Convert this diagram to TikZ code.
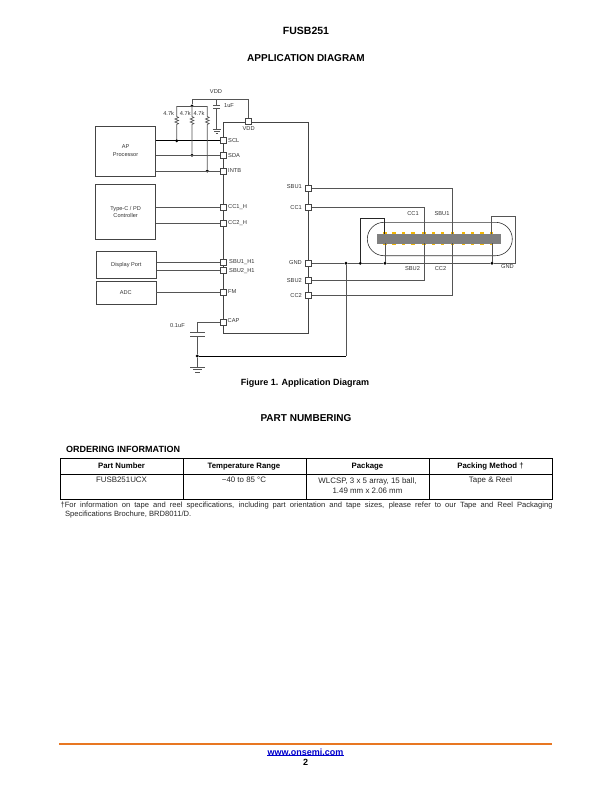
\documentclass[tikz,border=0pt]{standalone}
\usepackage{fontspec}
\setmainfont{Liberation Sans}
\usetikzlibrary{calc}
\definecolor{wirec}{HTML}{555555}
\definecolor{boxc}{HTML}{444444}
\definecolor{pinc}{HTML}{F2B705}
\definecolor{barc}{HTML}{7F7F7F}
\definecolor{footc}{HTML}{E87722}
\definecolor{linkc}{HTML}{0000CC}
\tikzset{
  wire/.style={draw=wirec,line width=0.5pt},
  blk/.style={draw=boxc,line width=0.6pt,fill=white,inner sep=0pt,align=center,font=\fontsize{5.6}{6.8}\selectfont,text=black!80},
  icpin/.style={draw=boxc,line width=0.5pt,fill=white,minimum size=6pt,inner sep=0pt},
  dotj/.style={circle,fill=black,inner sep=0pt,minimum size=3.2pt},
  lab/.style={inner sep=0pt,font=\fontsize{5.7}{6.5}\selectfont,text=black!80},
  labl/.style={lab,anchor=west},
  labr/.style={lab,anchor=east},
  ctact/.style={fill=pinc,draw=none,minimum width=3.2pt,minimum height=2.2pt,inner sep=0pt},
  head/.style={inner sep=0pt,font=\bfseries\fontsize{10}{12}\selectfont},
  subhead/.style={inner sep=0pt,font=\bfseries\fontsize{9}{11}\selectfont},
  thead/.style={inner sep=0pt,anchor=base,font=\bfseries\fontsize{7.8}{9.5}\selectfont,align=center},
  tcell/.style={inner sep=0pt,font=\fontsize{7.9}{9.5}\selectfont,align=center,text=black!85},
}
\begin{document}
\begin{tikzpicture}[x=1pt,y=-1pt]
\useasboundingbox (0,0) rectangle (612,792);
% titles
\node[inner sep=0pt,font=\bfseries\fontsize{10.5}{12}\selectfont] (title) at (306,30.5) {FUSB251};
\node[head] (apptitle) at (306,58) {APPLICATION DIAGRAM};
\node[subhead] (figcap) at (305,383) {Figure 1. Application Diagram};
\node[head] (parttitle) at (306,418.5) {PART NUMBERING};
\node[subhead,anchor=west] (ordtitle) at (66,449) {ORDERING INFORMATION};
% IC and blocks
\node[blk,minimum width=85pt,minimum height=211.6pt,anchor=north west,line width=0.8pt] (ic) at (223.3,121.7) {};
\node[blk,minimum width=60pt,minimum height=50pt,anchor=north west] (ap) at (95.3,125.7) {AP\\[1pt]Processor};
\node[blk,minimum width=60pt,minimum height=54.7pt,anchor=north west] (typec) at (95.3,184.3) {Type-C / PD\\Controller};
\node[blk,minimum width=60pt,minimum height=26.7pt,anchor=north west] (dp) at (96,251) {Display Port};
\node[blk,minimum width=60pt,minimum height=22.7pt,anchor=north west] (adc) at (95.5,281.3) {ADC};
% coordinates
\coordinate (sclc) at (223.3,140.7);
\coordinate (sdac) at (223.3,155.3);
\coordinate (intbc) at (223.3,171);
\coordinate (cchc) at (223.3,207.3);
\coordinate (cchtwoc) at (223.3,223.3);
\coordinate (sbuhc) at (223.3,262.3);
\coordinate (sbuhtwoc) at (223.3,270.7);
\coordinate (fmc) at (223.3,292);
\coordinate (capc) at (223.3,322);
\coordinate (vddc) at (248.3,121.7);
\coordinate (rsbuc) at (308.3,188);
\coordinate (rccc) at (308.3,207.5);
\coordinate (rgndc) at (308.3,263.3);
\coordinate (rsbutwoc) at (308.3,280.5);
\coordinate (rcctwoc) at (308.3,295.5);
% junctions
\node[dotj] (jscl) at (176.7,140.7) {};
\node[dotj] (jsda) at (192,155.3) {};
\node[dotj] (jintb) at (207.3,171) {};
\node[dotj] (jbus) at (192,106) {};
\coordinate (ra) at (176.7,106);
\coordinate (rc) at (207.3,106);
\coordinate (vtl) at (192,99);
\coordinate (vtc) at (216.7,99);
\coordinate (vtr) at (248.3,99);
% left wires
\draw[wire,draw=black,line width=0.6pt] (ap.east |- sclc) -- (sclc);
\draw[wire] (ap.east |- sdac) -- (sdac);
\draw[wire] (ap.east |- intbc) -- (intbc);
\draw[wire] (typec.east |- cchc) -- (cchc);
\draw[wire] (typec.east |- cchtwoc) -- (cchtwoc);
\draw[wire] (dp.east |- sbuhc) -- (sbuhc);
\draw[wire] (dp.east |- sbuhtwoc) -- (sbuhtwoc);
\draw[wire] (adc.east |- fmc) -- (fmc);
% VDD net
\draw[wire] (vtl) -- (vtr) -- (vddc);
\draw[wire] (vtl) -- (jbus);
\draw[wire,line width=0.7pt] (jbus) -- (192,116.5) -- ++(1.8,1) -- ++(-3.6,1.5) -- ++(3.6,1.5) -- ++(-3.6,1.5) -- ++(3.6,1.5) -- ++(-1.8,1) -- (jsda);
\draw[wire] (ra) -- (rc);
\draw[wire,line width=0.7pt] (ra) -- (176.7,116.5) -- ++(1.8,1) -- ++(-3.6,1.5) -- ++(3.6,1.5) -- ++(-3.6,1.5) -- ++(3.6,1.5) -- ++(-1.8,1) -- (jscl);
\draw[wire,line width=0.7pt] (rc) -- (207.3,116.5) -- ++(1.8,1) -- ++(-3.6,1.5) -- ++(3.6,1.5) -- ++(-3.6,1.5) -- ++(3.6,1.5) -- ++(-1.8,1) -- (jintb);
% 1uF capacitor and ground
\draw[wire] (vtc) -- (216.7,105.6);
\draw[wire] (213,105.6) -- (220.4,105.6);
\draw[wire] (213,108.2) -- (220.4,108.2);
\draw[wire] (216.7,108.2) -- (216.7,129);
\draw[wire] (212.5,129) -- (221,129) (214,131) -- (219.5,131) (215.5,133) -- (218,133);
% CAP net
\node[dotj] (jgnd) at (197.3,356) {};
\draw[wire] (capc) -- (197.3,322) -- (197.3,332.3);
\draw[wire] (190.3,332.3) -- (205,332.3) (190.3,336) -- (205,336);
\draw[wire] (197.3,336) -- (jgnd) -- (197.3,367.5);
\draw[wire] (190.3,367.5) -- (205,367.5) (193,369.7) -- (202,369.7) (195.3,372) -- (199.6,372);
% connector
\node[draw=black!80,line width=0.6pt,fill=white,rounded corners=16.7pt,minimum width=145pt,minimum height=33.4pt,inner sep=0pt] (usb) at (439.8,239) {};
\foreach \px in {385,394,403.7,413,424,433.3,442.7,452.3,463.3,472.7,482,491.3}{
  \node[ctact] at (\px,233.4) {};
  \node[ctact] at (\px,243.6) {};
}
\node[fill=barc,draw=black!50,line width=0.3pt,minimum width=122.4pt,minimum height=8.3pt,inner sep=0pt] (bar) at (438.5,238.5) {};
% right wires
\node[dotj] (jfar) at (346,263.3) {};
\node[dotj] (jloop) at (360.3,263.3) {};
\node[dotj] (jleft) at (385,263.3) {};
\node[dotj] (jright) at (492,263.3) {};
\coordinate (sbutop) at (452.3,234.3);
\coordinate (sbubot) at (452.3,242.7);
\coordinate (cctop) at (424,234.3);
\coordinate (ccbot) at (424,242.7);
\draw[wire] (rsbuc) -| (sbutop);
\draw[wire] (rccc) -| (cctop);
\draw[wire] (rsbutwoc) -| (ccbot);
\draw[wire] (rcctwoc) -| (sbubot);
\draw[wire] (rgndc) -- (jfar) -- (jloop) -- (jleft) -- (jright) -- (515.7,263.3) -- (515.7,216.3) -- (491.3,216.3) -- (491.3,234.3);
\draw[wire,draw=black!85] (jloop) -- (360.3,218.3) -- (384.7,218.3) -- (384.7,234.3);
\draw[wire] (jleft) -- (385,242.7);
\draw[wire] (jright) -- (492,242.7);
\draw[wire] (jfar) -- (346,356);
\draw[wire,draw=black,line width=0.7pt] (jgnd) -- (346,356);
% pins
\foreach \n/\c in {scl/sclc,sda/sdac,intb/intbc,cch/cchc,cchtwo/cchtwoc,sbuh/sbuhc,sbuhtwo/sbuhtwoc,fm/fmc,cap/capc,vdd/vddc,rsbu/rsbuc,rcc/rccc,rgnd/rgndc,rsbutwo/rsbutwoc,rcctwo/rcctwoc}{
  \node[icpin] (\n) at (\c) {};
}
% labels
\node[lab] (lvdd) at (216,92) {VDD};
\node[lab] (luf) at (229,106) {1uF};
\node[lab] (lra) at (168.7,113.5) {4.7k};
\node[lab] (lrb) at (185.3,113.5) {4.7k};
\node[lab] (lrc) at (199,113.5) {4.7k};
\node[lab] (lvddp) at (248.7,129) {VDD};
\node[labl] at (228,140.7) {SCL};
\node[labl] at (228,155.3) {SDA};
\node[labl] at (228,171) {INTB};
\node[labl] at (228,207.3) {CC1\_H};
\node[labl] at (228,223.3) {CC2\_H};
\node[labl] at (229,262.3) {SBU1\_H1};
\node[labl] at (229,270.7) {SBU2\_H1};
\node[labl] at (228,292) {FM};
\node[labl] at (227.5,321) {CAP};
\node[labl] at (170,325.5) {0.1uF};
\node[labr] at (302,186.5) {SBU1};
\node[labr] at (302,207.5) {CC1};
\node[labr] at (302,262.5) {GND};
\node[labr] at (302,280.5) {SBU2};
\node[labr] at (302,295.5) {CC2};
\node[lab] at (413,213.5) {CC1};
\node[lab] at (442,213.5) {SBU1};
\node[lab] at (412.5,269) {SBU2};
\node[lab] at (440.5,269) {CC2};
\node[lab] at (507.5,267) {GND};
% table
\node[draw=black,line width=0.7pt,minimum width=492pt,minimum height=40.4pt,inner sep=0pt,anchor=north west] (tbl) at (60.2,458.2) {};
\coordinate (colb) at (183,458.2);
\coordinate (colc) at (306,458.2);
\coordinate (cold) at (429,458.2);
\coordinate (rowl) at (60.2,474.2);
\draw[black,line width=0.6pt] (rowl) -- (rowl -| tbl.east);
\draw[black,line width=0.6pt] (colb) -- (colb |- tbl.south);
\draw[black,line width=0.6pt] (colc) -- (colc |- tbl.south);
\draw[black,line width=0.6pt] (cold) -- (cold |- tbl.south);
\node[thead] at (121.5,468) {Part Number};
\node[thead] at (244,468) {Temperature Range};
\node[thead] at (367.5,468) {Package};
\node[thead] at (490.5,468) {Packing Method {\normalfont †}};
\node[tcell] at (121.5,480) {FUSB251UCX};
\node[tcell] at (244,480) {−40 to 85 °C};
\node[tcell] at (367.5,485.5) {WLCSP, 3 x 5 array, 15 ball,\\1.49 mm x 2.06 mm};
\node[tcell] at (490.5,480) {Tape \& Reel};
\node[anchor=north west,inner sep=0pt,text width=492pt,align=justify,font=\fontsize{7.6}{9}\selectfont,text=black!85] (fn) at (60.4,501.6)
 {\hyphenpenalty=10000\tolerance=9999\hbadness=10000\hangindent=4.5pt\hangafter=1 †For information on tape and reel specifications, including part orientation and tape sizes, please refer to our Tape and Reel Packaging\linebreak Specifications Brochure, BRD8011/D.\par};
% footer
\coordinate (fla) at (59,744);
\coordinate (flb) at (552,744);
\draw[footc,line width=1.2pt] (fla) -- (flb);
\node[inner sep=0pt,font=\bfseries\fontsize{9}{11}\selectfont,text=linkc] (web) at (305.5,752) {www.onsemi.com};
\draw[linkc,line width=0.5pt] (web.south west) ++(0,0.2) -- ($(web.south east)+(0,0.2)$);
\node[inner sep=0pt,font=\bfseries\fontsize{9}{11}\selectfont] (pg) at (305.5,762) {2};
\end{tikzpicture}
\end{document}
